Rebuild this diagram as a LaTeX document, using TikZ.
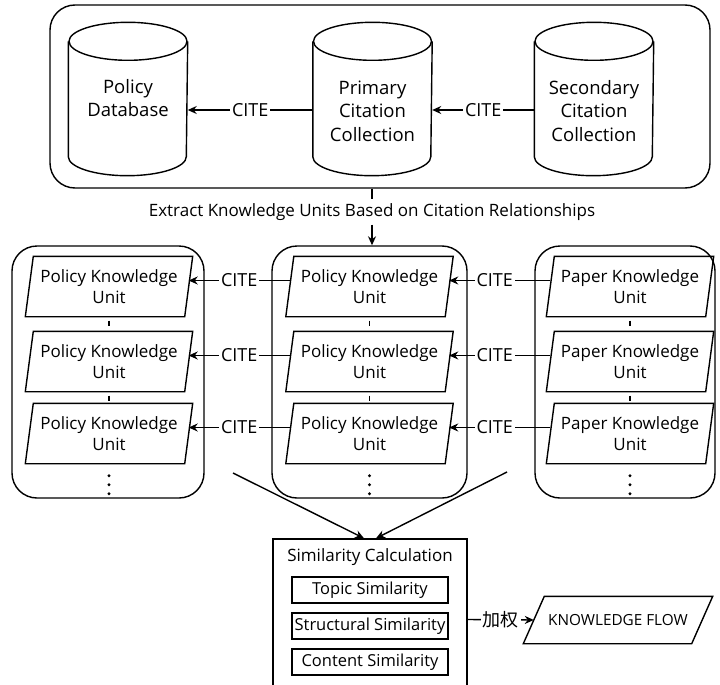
\documentclass[tikz,border=0pt]{standalone}
\usepackage{fontspec}
\setmainfont{Open Sans}
\newfontfamily\cjk{Noto Sans CJK SC}
\usetikzlibrary{arrows.meta}
\begin{document}
\begin{tikzpicture}[x=1pt,y=-1pt,
  line width=1.4pt,
  every node/.style={font=\fontsize{17}{21}\selectfont},
  arr/.style={-{Stealth[length=9pt,width=8pt]}},
  cylframe/.style={minimum width=118pt, minimum height=152pt, inner sep=0pt},
  cyltext/.style={align=center, font=\fontsize{18.5}{23.5}\selectfont},
  group/.style={draw, rounded corners=25pt, inner sep=0pt},
  para/.style={minimum width=158pt, minimum height=59pt, align=center, inner sep=0pt},
  lbl/.style={fill=white, inner sep=2pt, font=\fontsize{18}{21}\selectfont},
  simbox/.style={draw, minimum width=156pt, minimum height=26pt, inner sep=0pt,
    font=\fontsize{16.5}{20}\selectfont},
  dotn/.style={circle, fill, inner sep=0pt, minimum size=3.2pt},
  flow/.style={minimum width=167pt, minimum height=46pt, inner sep=0pt,
    font=\fontsize{15.3}{18}\selectfont}
]
\useasboundingbox (0,0) rectangle (720,685);

% top group
\node[group, minimum width=660pt, minimum height=183pt] (top) at (380,96.5) {};
\node[cylframe] (pd) at (128,99) {};
\node[cylframe] (pc) at (372.5,99) {};
\node[cylframe] (sc) at (594,99) {};
\foreach \c in {pd,pc,sc}{
  \draw ([yshift=-19pt]\c.north west) -- ([yshift=19pt]\c.south west)
    arc[start angle=180, end angle=360, x radius=59pt, y radius=19pt]
    -- ([yshift=-19pt]\c.north east);
  \draw ([yshift=-19pt]\c.north) ellipse [x radius=59pt, y radius=19pt];
}
\node[cyltext] (pdt) at (128,98) {Policy\\Database};
\node[cyltext] (pct) at (372.5,111) {Primary\\Citation\\Collection};
\node[cyltext] (sct) at (594,111) {Secondary\\Citation\\Collection};
\draw[arr] ([yshift=-11pt]pc.west) -- node[lbl]{CITE} ([yshift=-11pt]pd.east);
\draw[arr] ([yshift=-11pt]sc.west) -- node[lbl]{CITE} ([yshift=-11pt]pc.east);

% extract
\node (ext) at (372,212) {Extract Knowledge Units Based on Citation Relationships};

% middle groups
\node[group, minimum width=192pt, minimum height=252pt] (lg) at (108,372) {};
\node[group, minimum width=195pt, minimum height=252pt] (mg) at (369.5,372) {};
\node[group, minimum width=180pt, minimum height=252pt] (rg) at (625,372) {};

\draw (ext.north |- top.south) -- (ext.north);
\draw[arr] (ext.south) -- (ext.south |- mg.north);

\foreach \i/\y in {1/286.5,2/361.5,3/433.5}{
  \node[para] (l\i) at (109,\y) {Policy Knowledge\\Unit};
  \node[para] (m\i) at (369.5,\y) {Policy Knowledge\\Unit};
  \node[para] (r\i) at (630,\y) {Paper Knowledge\\Unit};
  \draw[arr] ([yshift=6pt]m\i.west) -- node[lbl]{CITE} ([yshift=6pt]l\i.east);
  \draw[arr] ([yshift=6pt]r\i.west) -- node[lbl, pos=0.55]{CITE} ([yshift=6pt]m\i.east);
}
\foreach \c in {l,m,r}{
  \foreach \i in {1,2,3}{
    \draw ([xshift=4pt]\c\i.north west) -- ([xshift=4pt]\c\i.north east)
      -- ([xshift=-4pt]\c\i.south east) -- ([xshift=-4pt]\c\i.south west) -- cycle;
  }
  \foreach \i in {1,2}{
    \draw[line width=1.2pt] ([yshift=-4pt]\c\i.south) -- ([yshift=-9pt]\c\i.south);
  }
  \foreach \d/\dy in {a/12,b/21,c/30}{
    \node[dotn] (\c dot\d) at ([yshift=-\dy pt]\c3.south) {};
  }
}

% similarity
\node[draw, minimum width=194pt, minimum height=161pt, inner sep=0pt] (sim) at (370,619.5) {};
\coordinate (s1) at (233,473);
\coordinate (s2) at (507,472);
\draw[arr] (s1) -- ([xshift=-6pt]sim.north);
\draw[arr] (s2) -- ([xshift=6pt]sim.north);
\node (simt) at (370,557) {Similarity Calculation};
\node[simbox] (topic) at (370,590) {Topic Similarity};
\node[simbox] (struc) at (370,626) {Structural Similarity};
\node[simbox] (cont) at (370,662) {Content Similarity};

\node[flow] (kf) at (618,620) {KNOWLEDGE FLOW};
\draw ([xshift=10.5pt]kf.north west) -- ([xshift=10.5pt]kf.north east)
  -- ([xshift=-10.5pt]kf.south east) -- ([xshift=-10.5pt]kf.south west) -- cycle;
\draw[arr] (sim.east) -- node[lbl]{\cjk 加权} (kf.west);
\end{tikzpicture}
\end{document}
